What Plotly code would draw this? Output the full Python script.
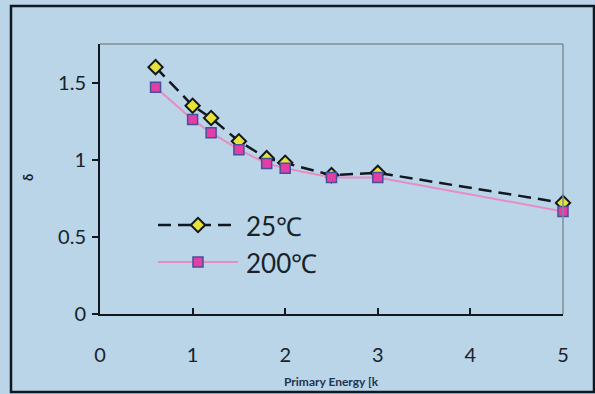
import plotly.graph_objects as go

# Primary energy (keV) and measured values for the two temperatures
energy = [0.6, 1.0, 1.2, 1.5, 1.8, 2.0, 2.5, 3.0, 5.0]
yield_25c = [1.60, 1.35, 1.27, 1.12, 1.01, 0.98, 0.90, 0.915, 0.72]
yield_200c = [1.47, 1.26, 1.175, 1.065, 0.975, 0.945, 0.885, 0.885, 0.665]

series_names = ["25℃", "200℃"]
x_ticks = [0, 1, 2, 3, 4, 5]
y_ticks = [0, 0.5, 1, 1.5]
y_tick_text = ["0", "0.5", "1", "1.5"]

W, H = 595, 394
ML, MR, MT, MB = 100, 32, 44, 80
BG = "#b9d5e7"
FONT = "Lato"
TEXT = "#18222c"
C25_LINE = "#111820"
C25_FILL = "#e6e23a"
C200_LINE = "#e88cc4"
C200_FILL = "#e23fa6"
C200_EDGE = "#4a4f9a"


def px_x(p):
    """Page pixel column -> paper fraction."""
    return (p - ML) / (W - ML - MR)


def px_y(p):
    """Page pixel row -> paper fraction."""
    return (H - MB - p) / (H - MT - MB)


line_25 = dict(color=C25_LINE, width=2.5, dash="13px,7px")
marker_25 = dict(symbol="diamond", size=11, color=C25_FILL,
                 line=dict(color=C25_LINE, width=2))
line_200 = dict(color=C200_LINE, width=2)
marker_200 = dict(symbol="square", size=10, color=C200_FILL,
                  line=dict(color=C200_EDGE, width=1.5))

fig = go.Figure()

fig.add_trace(go.Scatter(
    x=energy, y=yield_25c, mode="lines+markers", name=series_names[0],
    line=line_25, marker=marker_25, cliponaxis=False, showlegend=False,
))
fig.add_trace(go.Scatter(
    x=energy, y=yield_200c, mode="lines+markers", name=series_names[1],
    line=line_200, marker=marker_200, cliponaxis=False, showlegend=False,
))

# Legend keys drawn on an overlay axis measured in page pixels
key_x = [158, 198, 238]
for yk, lstyle, mstyle in [(225, line_25, marker_25), (262, line_200, marker_200)]:
    fig.add_trace(go.Scatter(
        x=key_x, y=[yk] * 3, xaxis="x2", yaxis="y2", mode="lines",
        line=lstyle, hoverinfo="skip", showlegend=False,
    ))
    fig.add_trace(go.Scatter(
        x=[key_x[1]], y=[yk], xaxis="x2", yaxis="y2", mode="markers",
        marker=mstyle, hoverinfo="skip", showlegend=False,
    ))

annotations = [
    dict(x=px_x(244), y=px_y(226), xref="paper", yref="paper", text=series_names[0],
         showarrow=False, xanchor="left", yanchor="middle",
         font=dict(family=FONT, size=26, color=TEXT)),
    dict(x=px_x(244), y=px_y(263), xref="paper", yref="paper", text=series_names[1],
         showarrow=False, xanchor="left", yanchor="middle",
         font=dict(family=FONT, size=26, color=TEXT)),
    dict(x=0.5, y=px_y(381), xref="paper", yref="paper",
         text="<b>Primary Energy [k</b>",
         showarrow=False, xanchor="center", yanchor="middle",
         font=dict(family=FONT, size=12, color="#1e3550")),
    dict(x=px_x(28), y=px_y(178), xref="paper", yref="paper", text="<b>δ</b>",
         textangle=-90, showarrow=False, xanchor="center", yanchor="middle",
         font=dict(family=FONT, size=13, color=TEXT)),
]

shapes = [
    # light frame on the top and right of the plotting area
    dict(type="line", xref="paper", yref="paper", x0=0, x1=1, y0=1, y1=1,
         line=dict(color="#7d8d98", width=1.5)),
    dict(type="line", xref="paper", yref="paper", x0=1, x1=1, y0=0, y1=1,
         line=dict(color="#7d8d98", width=1.5)),
    # dark border around the whole panel
    dict(type="rect", xref="paper", yref="paper",
         x0=px_x(11), x1=px_x(594), y0=px_y(6), y1=px_y(392),
         line=dict(color="#111820", width=2.5), layer="below"),
]

fig.update_layout(
    width=W, height=H,
    margin=dict(l=ML, r=MR, t=MT, b=MB),
    paper_bgcolor=BG, plot_bgcolor=BG,
    font=dict(family=FONT, color=TEXT),
    xaxis=dict(
        range=[0, 5], tickvals=x_ticks, ticks="inside", ticklen=6, tickwidth=2,
        tickcolor="#111820", showline=True, linecolor="#111820", linewidth=2,
        showgrid=False, zeroline=False, tickfont=dict(family=FONT, size=20, color=TEXT),
        ticklabelstandoff=22,
    ),
    yaxis=dict(
        range=[0, 1.75], tickvals=y_ticks, ticktext=y_tick_text, ticks="outside",
        ticklen=6, tickwidth=2, tickcolor="#111820", showline=True,
        linecolor="#111820", linewidth=2, showgrid=False, zeroline=False,
        tickfont=dict(family=FONT, size=20, color=TEXT), ticklabelstandoff=2,
    ),
    xaxis2=dict(range=[ML, W - MR], overlaying="x", visible=False, anchor="y2"),
    yaxis2=dict(range=[H - MB, MT], overlaying="y", visible=False, anchor="x2"),
    annotations=annotations,
    shapes=shapes,
)

fig.write_html("out.html")
